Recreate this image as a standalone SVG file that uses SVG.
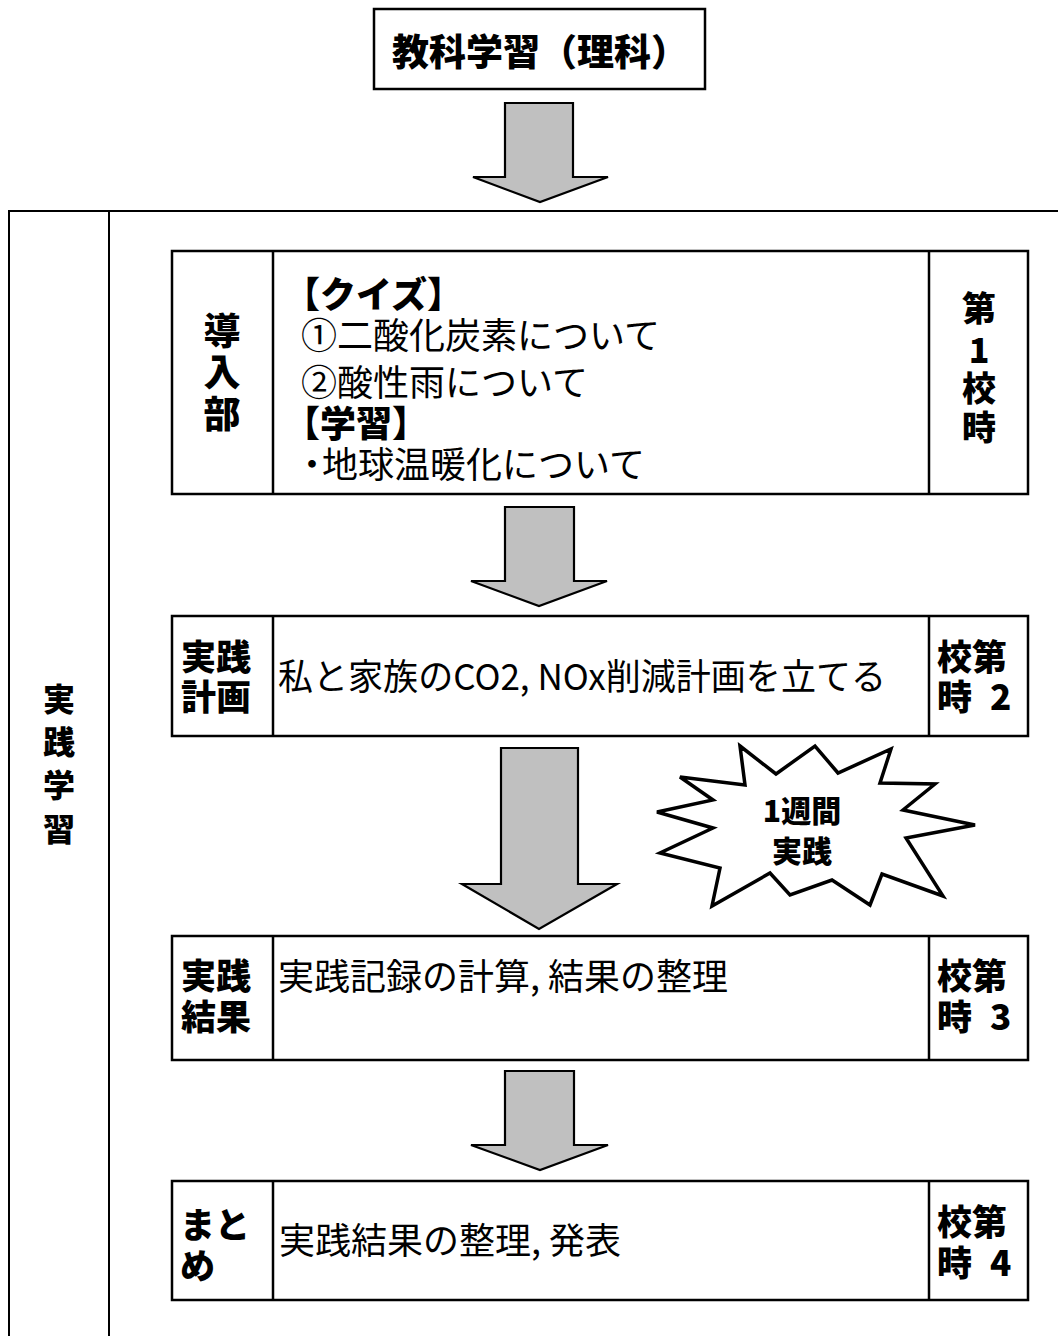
<svg xmlns="http://www.w3.org/2000/svg" width="1058" height="1336" viewBox="0 0 1058 1336">
<style>
.box{fill:#fff;stroke:#000;stroke-width:2.5}
.div{stroke:#000;stroke-width:2.5}
.frame{fill:none;stroke:#000;stroke-width:2}
.arrow{fill:#c0c0c0;stroke:#000;stroke-width:2.2;stroke-linejoin:miter}
.b{font-family:"Noto Sans CJK JP","Noto Sans CJK SC",sans-serif;font-weight:900;fill:#000}
.r{font-family:"Noto Sans CJK JP","Noto Sans CJK SC",sans-serif;font-weight:400;fill:#000}
.star{fill:#fff;stroke:#000;stroke-width:3.5;stroke-linejoin:miter}
</style>
<rect width="1058" height="1336" fill="#fff"/>

<g id="frame">
<rect class="frame" x="9" y="211" width="1080" height="1200"/>
<line class="frame" x1="109" y1="211" x2="109" y2="1336"/>
<text class="b" font-size="32" text-anchor="middle"><tspan x="59" y="711">実</tspan><tspan x="59" y="754">践</tspan><tspan x="59" y="797">学</tspan><tspan x="59" y="841">習</tspan></text>
</g>

<g id="title">
<rect class="box" x="374" y="9" width="331" height="80"/>
<text class="b" font-size="37" x="540" y="66" text-anchor="middle">教科学習（理科）</text>
</g>

<g id="connectors">
<polygon class="arrow" points="505,103 573,103 573,177 608,177 540,202 473,177 505,177"/>
<polygon class="arrow" points="505,507 574,507 574,581 607,581 539,606 471,581 505,581"/>
<polygon class="arrow" points="501,748 578,748 578,884 617,884 539,929 462,884 501,884"/>
<polygon class="arrow" points="505,1071 574,1071 574,1145 608,1145 540,1170 471,1145 505,1145"/>
</g>

<g id="step1">
<rect class="box" x="172" y="251" width="856" height="243"/>
<line class="div" x1="273" y1="251" x2="273" y2="494"/>
<line class="div" x1="929" y1="251" x2="929" y2="494"/>
<text class="b" font-size="37" text-anchor="middle"><tspan x="222" y="345">導</tspan><tspan x="222" y="386">入</tspan><tspan x="222" y="428">部</tspan></text>
<text class="b" font-size="34" text-anchor="middle"><tspan x="979" y="321">第</tspan><tspan x="979" y="363">1</tspan><tspan x="979" y="401">校</tspan><tspan x="979" y="440">時</tspan></text>
<text class="b" font-size="36" x="284" y="308">【クイズ】</text>
<text class="r" font-size="36" x="301" y="349">①二酸化炭素について</text>
<text class="r" font-size="36" x="301" y="396">②酸性雨について</text>
<text class="b" font-size="36" x="284" y="437">【学習】</text>
<text class="r" font-size="36" y="478"><tspan x="294">・</tspan><tspan x="322">地球温暖化について</tspan></text>
</g>

<g id="step2">
<rect class="box" x="172" y="616" width="856" height="120"/>
<line class="div" x1="273" y1="616" x2="273" y2="736"/>
<line class="div" x1="929" y1="616" x2="929" y2="736"/>
<text class="b" font-size="35"><tspan x="181" y="670">実践</tspan><tspan x="181" y="710">計画</tspan></text>
<text class="r" font-size="36" x="278" y="690" textLength="608" lengthAdjust="spacingAndGlyphs">私と家族のCO2, NOx削減計画を立てる</text>
<text class="b" font-size="35"><tspan x="937" y="670">校第</tspan><tspan x="937" y="710">時</tspan><tspan x="990" y="710">2</tspan></text>
</g>

<g id="burst">
<polygon class="star" points="740,746 776,774 815,746 838,773 891,749 880,783 935,784 903,810 975,825 906,838 943,896 882,874 870,905 832,880 790,895 770,873 712,906 720,868 660,853 713,828 657,812 713,800 680,777 745,785"/>
<text class="b" font-size="30" text-anchor="middle"><tspan x="802" y="822">1週間</tspan><tspan x="802" y="862">実践</tspan></text>
</g>

<g id="step3">
<rect class="box" x="172" y="936" width="856" height="124"/>
<line class="div" x1="273" y1="936" x2="273" y2="1060"/>
<line class="div" x1="929" y1="936" x2="929" y2="1060"/>
<text class="b" font-size="35"><tspan x="181" y="989">実践</tspan><tspan x="181" y="1030">結果</tspan></text>
<text class="r" font-size="36" x="278" y="990">実践記録の計算, 結果の整理</text>
<text class="b" font-size="35"><tspan x="937" y="989">校第</tspan><tspan x="937" y="1030">時</tspan><tspan x="990" y="1030">3</tspan></text>
</g>

<g id="step4">
<rect class="box" x="172" y="1181" width="856" height="119"/>
<line class="div" x1="273" y1="1181" x2="273" y2="1300"/>
<line class="div" x1="929" y1="1181" x2="929" y2="1300"/>
<text class="b" font-size="35"><tspan x="180" y="1238">まと</tspan><tspan x="180" y="1279">め</tspan></text>
<text class="r" font-size="36" x="279" y="1254">実践結果の整理, 発表</text>
<text class="b" font-size="35"><tspan x="937" y="1235">校第</tspan><tspan x="937" y="1276">時</tspan><tspan x="990" y="1276">4</tspan></text>
</g>
</svg>
